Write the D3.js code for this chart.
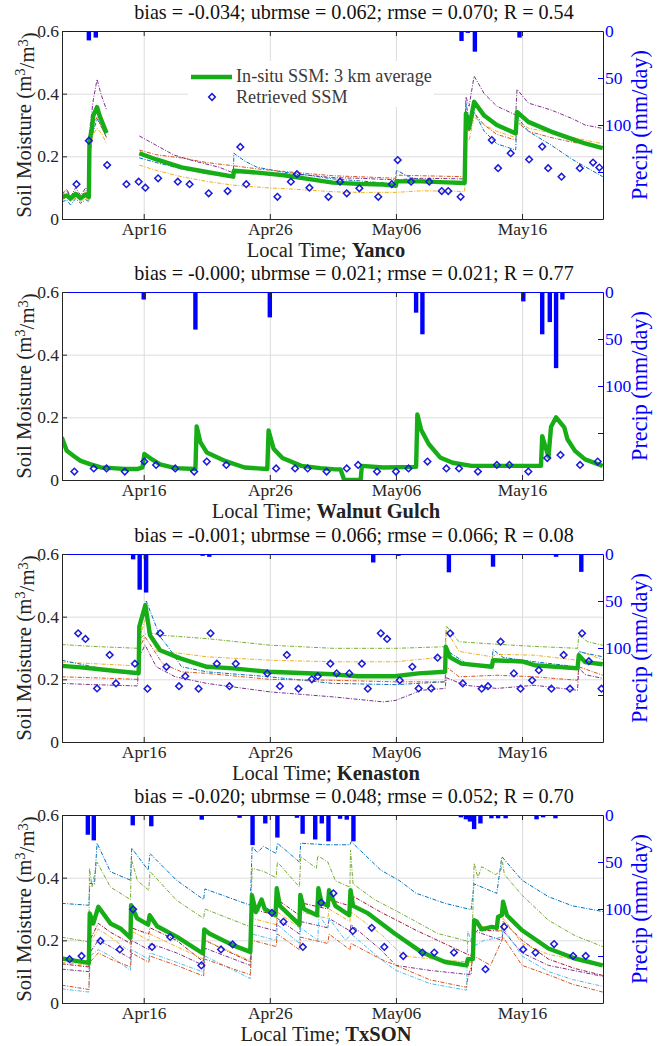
<!DOCTYPE html>
<html>
<head>
<meta charset="utf-8">
<script src="https://cdn.jsdelivr.net/npm/d3@7"></script>
<style>
  body { margin: 0; background: #fff; }
  text { font-family: "Liberation Serif", "DejaVu Serif", serif; }
</style>
</head>
<body>
<div id="chart"></div>
<script>
// ---- data (day numbers: 16 = Apr16, 46 = May16) ----
const dayTicks = [16, 26, 36, 46];
const smTicks = [0, 0.2, 0.4, 0.6];
const precipTicks = [0, 50, 100, 150];
const precipTickLabels = ['0', '50', '100', ''];

const siteNames = ['Yanco', 'Walnut Gulch', 'Kenaston', 'TxSON'];
const statTitles = [
  'bias = -0.034; ubrmse = 0.062; rmse = 0.070; R = 0.54',
  'bias = -0.000; ubrmse = 0.021; rmse = 0.021; R = 0.77',
  'bias = -0.001; ubrmse = 0.066; rmse = 0.066; R = 0.08',
  'bias = -0.020; ubrmse = 0.048; rmse = 0.052; R = 0.70',
];

// Yanco
const yancoInsitu = [[9.5,0.07],[9.9,0.075],[10.2,0.065],[10.6,0.08],[11.0,0.066],[11.4,0.078],[11.65,0.07],[11.7,0.25],[11.9,0.29],[12.0,0.33],[12.3,0.357],[12.5,0.33],[12.8,0.30],[13.05,0.274],[13.5,null],[15.65,0.21],[17,0.19],[19,0.165],[21,0.15],[23.1,0.135],[23.15,0.154],[25,0.148],[27,0.14],[29,0.128],[31,0.116],[33,0.112],[35,0.11],[36,0.106],[36.05,0.12],[38,0.12],[40,0.117],[41.45,0.115],[41.55,0.337],[41.8,0.29],[42.2,0.374],[43,0.33],[44,0.30],[45.5,0.273],[45.6,0.342],[46.5,0.31],[48.3,0.279],[50,0.255],[51,0.241],[52.4,0.226]];
const yancoProbeBlue = [[9.5,0.055],[9.9,0.06],[10.2,0.045],[10.6,0.065],[11.0,0.05],[11.4,0.062],[11.65,0.055],[11.7,0.22],[12.0,0.28],[12.3,0.32],[12.7,0.29],[13.05,0.26],[13.5,null],[15.65,0.195],[17,0.18],[19,0.16],[21,0.145],[23.1,0.132],[23.15,0.21],[24,0.185],[25,0.165],[27,0.15],[29,0.14],[31,0.128],[33,0.122],[35.9,0.112],[36.05,0.156],[37,0.135],[38,0.125],[40,0.115],[41.45,0.11],[41.55,0.37],[41.8,0.32],[42.2,0.342],[43,0.28],[44,0.24],[45.5,0.22],[45.6,0.326],[46.5,0.28],[48.3,0.236],[50,0.19],[51,0.167],[52.4,0.135]];
const yancoProbeRed = [[9.5,0.075],[9.9,0.09],[10.2,0.07],[10.6,0.09],[11.0,0.07],[11.4,0.09],[11.65,0.075],[11.7,0.24],[12.0,0.30],[12.3,0.325],[12.7,0.29],[13.05,0.26],[13.5,null],[15.65,0.22],[17,0.205],[19,0.195],[21,0.18],[23.1,0.17],[25,0.16],[27,0.152],[29,0.145],[31,0.138],[33,0.135],[36,0.13],[36.05,0.14],[38,0.138],[41.45,0.135],[41.55,0.31],[41.8,0.28],[42.2,0.338],[43,0.30],[44,0.27],[45.5,0.252],[45.6,0.31],[46.5,0.28],[48.3,0.26],[50,0.245],[52.4,0.23]];
const yancoProbeYellow = [[9.5,0.06],[9.9,0.07],[10.2,0.055],[10.6,0.07],[11.0,0.055],[11.4,0.068],[11.65,0.06],[11.7,0.2],[12.0,0.27],[12.3,0.29],[12.7,0.27],[13.05,0.24],[13.5,null],[15.65,0.172],[17,0.155],[19,0.135],[21,0.12],[23.1,0.108],[26,0.099],[28,0.095],[31,0.087],[33,0.085],[36,0.085],[38,0.09],[41.45,0.088],[41.55,0.268],[41.8,0.25],[42.2,0.326],[43,0.30],[44,0.28],[45.5,0.26],[45.6,0.31],[46.5,0.29],[48.3,0.275],[50,0.26],[52.4,0.24]];
const yancoProbePurple = [[9.5,0.08],[9.9,0.095],[10.2,0.07],[10.6,0.1],[11.0,0.075],[11.4,0.1],[11.65,0.08],[11.7,0.28],[12.0,0.38],[12.3,0.446],[12.6,0.40],[13.05,0.348],[13.5,null],[15.65,0.265],[17,0.235],[18.4,0.204],[20,0.185],[22,0.165],[23.1,0.147],[25,0.15],[27,0.145],[29,0.14],[31,0.132],[33,0.13],[36,0.125],[38,0.13],[41.45,0.128],[41.55,0.39],[41.8,0.36],[42.2,0.456],[43,0.40],[44,0.36],[45.5,0.332],[45.6,0.414],[46.5,0.37],[48.3,0.348],[50,0.32],[51,0.30],[52.4,0.289]];
const yancoRetrieved = [[10.67,0.111],[11.65,0.25],[13.1,0.172],[14.63,0.111],[15.6,0.119],[16.13,0.1],[17.14,0.13],[18.7,0.119],[19.64,0.111],[21.15,0.082],[22.65,0.089],[23.66,0.23],[24.13,0.111],[26.6,0.071],[27.67,0.119],[28.15,0.143],[29.14,0.1],[30.65,0.071],[31.57,0.119],[32.1,0.082],[33.1,0.098],[34.6,0.071],[35.67,0.111],[36.14,0.188],[37.2,0.119],[38.64,0.119],[39.63,0.089],[40.15,0.089],[41.13,0.071],[43.6,0.252],[44.1,0.162],[45.1,0.21],[46.56,0.19],[47.6,0.231],[48.07,0.162],[49.13,0.135],[50.58,0.162],[51.63,0.18],[52.13,0.164]];
const yancoPrecip = [[11.65,10],[12.2,7],[23.2,1],[35.7,1],[41.2,10.6],[41.7,2],[42.26,22],[45.8,7]];

// Walnut Gulch
const walnutInsitu = [[9.5,0.136],[9.9,0.093],[10.5,0.075],[11,0.061],[11.8,0.05],[12.6,0.04],[13.5,0.038],[14.5,0.035],[15.5,0.035],[15.9,0.04],[16.05,0.083],[16.5,0.07],[17.3,0.05],[18.5,0.038],[20.1,0.035],[20.2,0.171],[20.5,0.12],[21,0.088],[22.5,0.06],[24,0.04],[25.8,0.035],[25.9,0.158],[26.3,0.1],[27,0.07],[28.5,0.045],[30,0.038],[31.2,0.034],[31.6,0.034],[31.9,0],[33.2,0],[33.3,0.045],[35,0.04],[37.6,0.042],[37.7,0.209],[38,0.16],[38.6,0.115],[39.5,0.072],[40.5,0.055],[42,0.045],[45,0.045],[47.5,0.045],[47.6,0.14],[47.9,0.1],[48.1,0.075],[48.3,0.17],[48.7,0.2],[49.35,0.168],[49.6,0.13],[50.2,0.093],[51,0.066],[52.4,0.045]];
const walnutRetrieved = [[10.5,0.027],[12.04,0.037],[13.05,0.037],[14.5,0.027],[16.05,0.059],[16.98,0.048],[18.5,0.037],[20.0,0.027],[21.0,0.059],[22.55,0.048],[26.5,0.037],[28.0,0.037],[29.0,0.037],[30.5,0.027],[32.1,0.037],[33.0,0.048],[34.5,0.027],[36.0,0.027],[37.0,0.037],[38.5,0.059],[40.0,0.037],[41.0,0.037],[42.5,0.027],[44.0,0.048],[45.0,0.048],[46.5,0.027],[48.0,0.07],[49.05,0.08],[50.6,0.048],[52.0,0.059]];
const walnutPrecip = [[16.0,8],[20.1,40],[26.0,27],[37.6,22],[38.1,45],[46.1,10],[47.6,45],[48.2,32],[48.7,81],[49.2,8]];

// Kenaston
const kenastonInsitu = [[9.5,0.243],[11,0.238],[12.5,0.232],[14,0.226],[15.6,0.22],[15.65,0.368],[16.13,0.437],[16.5,0.341],[17.3,0.293],[18.9,0.267],[21,0.24],[23.1,0.235],[25.9,0.224],[31,0.216],[33,0.21],[35.9,0.21],[37.8,0.219],[39.9,0.224],[39.95,0.304],[40.3,0.27],[41.2,0.25],[43.6,0.24],[43.7,0.261],[46,0.257],[47,0.245],[50.4,0.235],[50.5,0.277],[51,0.255],[52.4,0.248]];
const kenastonProbeBlue = [[9.5,0.261],[12,0.24],[15,0.216],[15.6,0.215],[15.7,0.38],[16.2,0.45],[17.3,0.336],[18,0.3],[19,0.24],[21,0.224],[26,0.208],[31,0.187],[36,0.183],[39.9,0.192],[40,0.293],[41.6,0.25],[43.6,0.245],[43.7,0.295],[44.5,0.27],[47,0.256],[50.4,0.24],[50.5,0.288],[52.4,0.272]];
const kenastonProbeRed = [[9.5,0.208],[12,0.205],[15.5,0.2],[15.65,0.3],[16.1,0.336],[17.5,0.25],[19,0.224],[21,0.219],[26,0.2],[31,0.197],[36,0.192],[39.9,0.192],[40,0.24],[41,0.208],[44,0.213],[47,0.208],[50.4,0.197],[50.5,0.24],[52.4,0.213]];
const kenastonProbeYellow = [[9.5,0.255],[12,0.25],[15.5,0.243],[15.65,0.33],[16.2,0.40],[17,0.29],[18.9,0.283],[21,0.272],[26,0.261],[31,0.256],[36,0.256],[39.9,0.272],[40,0.357],[41,0.289],[43.6,0.272],[44,0.28],[47,0.277],[50.4,0.261],[50.5,0.29],[52.4,0.263]];
const kenastonProbePurple = [[9.5,0.187],[12,0.183],[15.5,0.179],[15.65,0.27],[16.1,0.31],[17,0.24],[18.5,0.208],[21,0.187],[26,0.16],[31,0.144],[35,0.128],[36,0.133],[38,0.165],[39.9,0.171],[40,0.205],[41.5,0.181],[44,0.171],[47,0.181],[50.4,0.165],[50.5,0.237],[51,0.215],[52.4,0.203]];
const kenastonProbeGreen = [[9.5,0.311],[12,0.305],[15.6,0.299],[15.7,0.33],[16.3,0.35],[17.3,0.341],[21,0.33],[26,0.309],[31,0.299],[36,0.299],[39.9,0.304],[40,0.37],[41,0.32],[44,0.312],[47,0.305],[50.4,0.299],[50.5,0.341],[51.2,0.32],[52.4,0.309]];
const kenastonRetrieved = [[10.8,0.347],[11.38,0.329],[12.3,0.171],[13.3,0.278],[13.8,0.187],[15.3,0.25],[16.3,0.17],[17.3,0.347],[17.8,0.24],[18.8,0.178],[19.3,0.21],[20.35,0.17],[21.3,0.347],[21.8,0.25],[22.8,0.178],[23.3,0.25],[25.8,0.219],[26.8,0.178],[27.35,0.278],[28.27,0.17],[29.33,0.2],[29.8,0.21],[30.8,0.25],[31.3,0.219],[32.3,0.219],[33.3,0.25],[33.77,0.17],[34.8,0.347],[35.3,0.329],[36.3,0.197],[37.3,0.24],[37.8,0.171],[38.8,0.171],[39.3,0.269],[40.3,0.347],[41.3,0.187],[42.8,0.17],[43.3,0.178],[44.3,0.32],[45.35,0.219],[45.88,0.17],[46.8,0.197],[47.33,0.229],[48.33,0.17],[49.3,0.278],[49.8,0.17],[50.76,0.347],[51.3,0.258],[52.3,0.17]];
const kenastonPrecip = [[15.0,1],[15.16,5.7],[15.68,38],[16.19,41],[20.67,2],[21.2,3],[34.2,9],[36.2,2],[36.6,1],[39.57,1],[40.2,19.5],[43.7,13.5],[44.4,1],[45.8,1],[48.7,3],[50.7,19]];

// TxSON
const txsonInsitu = [[9.5,0.142],[10.5,0.135],[11.65,0.128],[11.72,0.286],[12.0,0.254],[12.4,0.307],[13.36,0.254],[14.15,0.238],[14.95,0.208],[15.0,0.312],[15.48,0.27],[16.35,0.25],[16.47,0.28],[17.06,0.245],[18.64,0.211],[20.7,0.158],[20.8,0.235],[21.2,0.222],[23.1,0.184],[24.45,0.163],[24.58,0.344],[24.9,0.29],[25.35,0.33],[25.6,0.30],[26.45,0.28],[26.55,0.366],[26.8,0.31],[28.35,0.25],[28.42,0.345],[28.7,0.30],[29.75,0.28],[29.85,0.366],[30.1,0.32],[30.6,0.31],[30.7,0.36],[31.2,0.31],[32.3,0.28],[32.4,0.36],[32.6,0.31],[33.8,0.286],[35.9,0.222],[38,0.163],[39.9,0.131],[41.6,0.12],[41.7,0.14],[42.1,0.14],[42.2,0.264],[42.4,0.26],[42.8,0.235],[43.6,0.243],[44.0,0.24],[44.1,0.275],[44.4,0.28],[44.5,0.323],[44.8,0.28],[46,0.232],[48.1,0.174],[50.2,0.142],[52.4,0.12]];
const txsonProbeBlue = [[9.5,0.318],[11.65,0.312],[11.72,0.382],[12.1,0.38],[12.3,0.51],[13.36,0.419],[14.95,0.392],[15.05,0.494],[16.35,0.424],[16.5,0.477],[18.6,0.392],[20.75,0.33],[20.85,0.364],[24.45,0.312],[24.6,0.5],[25.0,0.48],[25.5,0.5],[26.5,0.477],[26.6,0.51],[28.35,0.45],[28.45,0.51],[30.5,0.505],[32.35,0.505],[32.45,0.515],[34.8,0.424],[36.3,0.39],[37.6,0.35],[39.9,0.318],[41.96,0.298],[42.2,0.38],[44.0,0.35],[44.4,0.467],[46.0,0.392],[48.1,0.339],[50,0.31],[52.4,0.292]];
const txsonProbeRed = [[9.5,0.057],[11.65,0.043],[11.72,0.13],[12.4,0.16],[13.36,0.14],[14.95,0.115],[15.02,0.16],[16.4,0.13],[16.5,0.15],[18.6,0.12],[20.75,0.086],[20.85,0.14],[24.45,0.09],[24.6,0.2],[26.5,0.18],[26.6,0.22],[28.35,0.17],[28.45,0.21],[30.6,0.19],[30.7,0.22],[32.35,0.17],[32.45,0.19],[34.8,0.14],[36,0.12],[38.7,0.074],[41.6,0.05],[41.7,0.08],[42.2,0.15],[43.5,0.12],[44.4,0.2],[44.5,0.21],[46,0.12],[48.1,0.09],[50,0.06],[52.4,0.035]];
const txsonProbeYellow = [[9.5,0.13],[11.65,0.12],[11.72,0.19],[12.4,0.236],[13.36,0.21],[14.95,0.163],[15.02,0.23],[16.4,0.2],[16.5,0.22],[18.6,0.18],[20.75,0.14],[20.85,0.2],[24.45,0.135],[24.6,0.27],[26.5,0.25],[26.6,0.29],[28.35,0.24],[28.45,0.29],[30.6,0.27],[30.7,0.30],[32.35,0.26],[32.45,0.29],[34.8,0.22],[36.6,0.15],[39,0.14],[41.96,0.13],[42.2,0.25],[44.4,0.23],[44.5,0.27],[46,0.19],[48.1,0.155],[52.4,0.12]];
const txsonProbePurple = [[9.5,0.108],[11.65,0.10],[11.72,0.16],[12.4,0.2],[13.36,0.18],[14.95,0.142],[15.02,0.2],[16.4,0.17],[16.5,0.19],[18.6,0.16],[20.75,0.12],[20.85,0.175],[24.45,0.12],[24.6,0.25],[26.5,0.23],[26.6,0.27],[28.35,0.22],[28.45,0.26],[30.6,0.24],[30.7,0.27],[32.35,0.23],[32.45,0.25],[34.8,0.17],[36,0.12],[38.7,0.104],[41.96,0.09],[42.2,0.23],[44.4,0.2],[44.5,0.23],[46,0.16],[48.1,0.12],[52.4,0.085]];
const txsonProbeGreen = [[9.5,0.21],[11.65,0.195],[11.7,0.43],[11.9,0.37],[12.3,0.45],[13.36,0.37],[14.95,0.33],[15.02,0.46],[15.5,0.39],[16.4,0.36],[16.5,0.42],[18.6,0.328],[20.75,0.27],[20.85,0.3],[24.45,0.243],[24.6,0.43],[25.5,0.42],[26.5,0.40],[26.6,0.45],[28.35,0.37],[28.45,0.467],[29.7,0.43],[29.8,0.47],[30.6,0.45],[31.2,0.39],[32.35,0.37],[32.4,0.488],[32.6,0.38],[34.3,0.33],[36.4,0.286],[39.3,0.222],[41.9,0.195],[42.05,0.21],[42.2,0.446],[42.5,0.40],[42.8,0.435],[43.9,0.41],[44.3,0.42],[44.45,0.45],[44.6,0.41],[46,0.344],[48.1,0.264],[50.2,0.215],[52.4,0.18]];
const txsonProbeCyan = [[9.5,0.045],[11.65,0.035],[11.75,0.15],[12.4,0.17],[13.36,0.15],[14.95,0.104],[15.05,0.17],[16.4,0.14],[16.5,0.16],[18.6,0.13],[20.75,0.098],[20.85,0.15],[24.45,0.078],[24.6,0.22],[26.5,0.2],[26.6,0.25],[28.35,0.19],[28.45,0.24],[29.8,0.2],[29.9,0.28],[30.6,0.24],[30.7,0.27],[32.0,0.2],[32.45,0.22],[34.8,0.14],[36,0.104],[38.7,0.062],[41.6,0.041],[41.7,0.23],[42.1,0.18],[43,0.2],[44.4,0.21],[44.5,0.24],[46,0.15],[48.1,0.1],[50,0.075],[52.4,0.053]];
const txsonProbeMaroon = [[9.5,0.125],[11.65,0.115],[11.72,0.20],[12.4,0.254],[13.36,0.226],[14.95,0.19],[15.02,0.24],[16.4,0.22],[16.5,0.24],[18.6,0.2],[20.75,0.131],[20.85,0.2],[24.45,0.131],[24.6,0.30],[26.5,0.28],[26.6,0.33],[28.35,0.28],[28.45,0.32],[30.6,0.30],[30.7,0.33],[32.35,0.31],[32.45,0.344],[34.8,0.29],[37.6,0.232],[41.96,0.15],[42.2,0.232],[44.4,0.23],[44.5,0.26],[46,0.2],[48.1,0.14],[50.2,0.11],[52.4,0.088]];
const txsonRetrieved = [[10.12,0.14],[11.07,0.15],[12.57,0.198],[14.1,0.171],[15.16,0.299],[16.66,0.179],[18.1,0.211],[20.57,0.12],[22.13,0.171],[23.05,0.187],[26.17,0.288],[27.08,0.259],[28.62,0.179],[30.07,0.32],[31.04,0.35],[32.58,0.23],[34.08,0.24],[35.08,0.179],[36.58,0.15],[38.1,0.161],[39.04,0.161],[40.6,0.161],[43.1,0.108],[44.58,0.243],[46.09,0.171],[47.07,0.161],[48.54,0.188],[50.05,0.15],[51.05,0.15]];
const txsonPrecip = [[11.57,21],[12.04,27],[15.13,11],[16.6,12],[20.6,5],[22.07,1],[23.6,3],[24.63,32],[25.64,9],[26.6,24],[28.15,3],[28.6,20],[29.6,26],[30.12,9],[30.65,28],[31.57,4],[32.1,5],[32.63,28],[41.15,2.5],[41.55,4.6],[41.87,7],[42.2,15],[42.7,9],[43.57,3.5],[44.1,3.5],[44.7,3.5],[47.15,4.6],[47.67,2.5],[48.65,3.5]];

// probe colours (MATLAB order)
const probeColor = {
  blue: '#0072BD', red: '#D95319', yellow: '#EDB120', purple: '#7E2F8E',
  green: '#77AC30', cyan: '#4DBEEE', maroon: '#A2142F',
};

const sites = [
  { insitu: yancoInsitu, retrieved: yancoRetrieved, precip: yancoPrecip,
    probes: [['blue', yancoProbeBlue], ['red', yancoProbeRed], ['yellow', yancoProbeYellow], ['purple', yancoProbePurple]] },
  { insitu: walnutInsitu, retrieved: walnutRetrieved, precip: walnutPrecip, probes: [] },
  { insitu: kenastonInsitu, retrieved: kenastonRetrieved, precip: kenastonPrecip,
    probes: [['green', kenastonProbeGreen], ['yellow', kenastonProbeYellow], ['blue', kenastonProbeBlue], ['red', kenastonProbeRed], ['purple', kenastonProbePurple]] },
  { insitu: txsonInsitu, retrieved: txsonRetrieved, precip: txsonPrecip,
    probes: [['blue', txsonProbeBlue], ['green', txsonProbeGreen], ['maroon', txsonProbeMaroon], ['yellow', txsonProbeYellow], ['purple', txsonProbePurple], ['cyan', txsonProbeCyan], ['red', txsonProbeRed]] },
];

// ---- layout ----
const W = 670, H = 1046;
const left = 62, right = 603, plotH = 188;
const tops = [31, 292, 554, 815];
const axisColor = '#262626';
const rainBlue = '#0000ff';
const insituGreen = '#17ad17';
const markerBlue = '#1a1adb';

const toDate = (d) => new Date(Date.UTC(2015, 2, 31) + d * 864e5);
const x = d3.scaleUtc().domain([toDate(9.52), toDate(52.42)]).range([left, right]);
const fmt = d3.utcFormat('%b%d');

const svg = d3.select('#chart').append('svg')
  .attr('width', W).attr('height', H)
  .attr('viewBox', `0 0 ${W} ${H}`);

// pick a font size so a sample string gets the width it has in the figure
function sizeFor(str, width) {
  const t = svg.append('text').attr('font-size', 20).text(str);
  const w = t.node().getComputedTextLength();
  t.remove();
  return 20 * width / w;
}
const tickFs = Math.min(17.5, sizeFor('Apr16', 46));
const labelFs = Math.min(20.5, sizeFor('Local Time; Yanco', 180));
const titleFs = sizeFor(statTitles[0], 440);
const legendFs = sizeFor('In-situ SSM: 3 km average', 196);
const precipFs = sizeFor('Precip (mm/day)', 150);
const ylabelFs = sizeFor('Soil Moisture (m3/m3)', 192);

const diamond = d3.symbol().type(d3.symbolSquare).size(22);

sites.forEach((site, i) => {
  const top = tops[i];
  const bottom = top + plotH;
  const y = d3.scaleLinear().domain([0, 0.6]).range([bottom, top]);
  const yP = d3.scaleLinear().domain([0, 200]).range([top, bottom]);
  const g = svg.append('g');

  const clipId = `clip${i}`;
  g.append('clipPath').attr('id', clipId)
    .append('rect').attr('x', left).attr('y', top).attr('width', right - left).attr('height', plotH);

  // grid
  g.append('g')
    .attr('transform', `translate(0,${bottom})`)
    .call(d3.axisBottom(x).tickValues(dayTicks.map(toDate)).tickSize(-plotH).tickFormat(''))
    .call((a) => a.select('.domain').remove())
    .selectAll('line').attr('stroke', '#dcdcdc');
  g.append('g')
    .attr('transform', `translate(${left},0)`)
    .call(d3.axisLeft(y).tickValues([0.2, 0.4]).tickSize(-(right - left)).tickFormat(''))
    .call((a) => a.select('.domain').remove())
    .selectAll('line').attr('stroke', '#dcdcdc');

  const plot = g.append('g').attr('clip-path', `url(#${clipId})`);

  // precipitation bars hanging from the top
  plot.selectAll('rect.rain').data(site.precip).enter().append('rect')
    .attr('class', 'rain')
    .attr('x', (d) => x(toDate(d[0])) - 2.2)
    .attr('width', 4.4)
    .attr('y', top)
    .attr('height', (d) => yP(d[1]) - top)
    .attr('fill', rainBlue);

  const line = d3.line()
    .defined((d) => d[1] !== null)
    .x((d) => x(toDate(d[0])))
    .y((d) => y(d[1]));

  site.probes.forEach(([c, data]) => {
    plot.append('path').datum(data)
      .attr('d', line)
      .attr('fill', 'none')
      .attr('stroke', probeColor[c])
      .attr('stroke-width', 1)
      .attr('stroke-dasharray', '4,1.5,1,1.5');
  });

  plot.append('path').datum(site.insitu)
    .attr('d', line)
    .attr('fill', 'none')
    .attr('stroke', insituGreen)
    .attr('stroke-width', 4.4)
    .attr('stroke-linejoin', 'round');

  plot.selectAll('path.ret').data(site.retrieved).enter().append('path')
    .attr('class', 'ret')
    .attr('d', diamond)
    .attr('transform', (d) => `translate(${x(toDate(d[0]))},${y(d[1])}) rotate(45)`)
    .attr('fill', 'none')
    .attr('stroke', markerBlue)
    .attr('stroke-width', 1.5);

  // axes
  const xAxis = g.append('g')
    .attr('transform', `translate(0,${bottom})`)
    .call(d3.axisBottom(x).tickValues(dayTicks.map(toDate)).tickFormat(fmt).tickSizeInner(-5).tickSizeOuter(0).tickPadding(4));
  g.append('g')
    .attr('transform', `translate(0,${top})`)
    .call(d3.axisTop(x).tickValues(dayTicks.map(toDate)).tickFormat('').tickSizeInner(-5).tickSizeOuter(0))
    .call((a) => a.select('.domain').attr('stroke', rainBlue))
    .selectAll('line').attr('stroke', axisColor);
  const yAxis = g.append('g')
    .attr('transform', `translate(${left},0)`)
    .call(d3.axisLeft(y).tickValues(smTicks).tickFormat((d) => (d === 0 ? '0' : d3.format('.1f')(d))).tickSizeInner(-5).tickSizeOuter(0).tickPadding(3));
  const pAxis = g.append('g')
    .attr('transform', `translate(${right},0)`)
    .call(d3.axisRight(yP).tickValues(precipTicks).tickFormat((d, k) => precipTickLabels[k]).tickSizeInner(-5).tickSizeOuter(0).tickPadding(2));

  [xAxis, yAxis].forEach((a) => {
    a.select('.domain').attr('stroke', axisColor);
    a.selectAll('line').attr('stroke', axisColor);
    a.selectAll('text').attr('fill', axisColor).attr('font-size', tickFs);
  });
  pAxis.select('.domain').attr('stroke', rainBlue);
  pAxis.selectAll('line').attr('stroke', rainBlue);
  pAxis.selectAll('text').attr('fill', rainBlue).attr('font-size', tickFs);

  // titles
  g.append('text')
    .attr('x', 354).attr('y', top - 12)
    .attr('text-anchor', 'middle')
    .attr('font-size', titleFs).attr('fill', '#111')
    .text(statTitles[i]);

  const xl = g.append('text')
    .attr('x', 326).attr('y', bottom + 38)
    .attr('text-anchor', 'middle')
    .attr('font-size', labelFs).attr('fill', '#222');
  xl.append('tspan').text('Local Time; ');
  xl.append('tspan').attr('font-weight', 'bold').text(siteNames[i]);

  const yl = g.append('text')
    .attr('transform', `translate(31,${top + plotH / 2}) rotate(-90)`)
    .attr('text-anchor', 'middle')
    .attr('font-size', ylabelFs).attr('fill', '#222');
  yl.append('tspan').text('Soil Moisture (m');
  yl.append('tspan').attr('font-size', '70%').attr('dy', '-0.4em').text('3');
  yl.append('tspan').attr('dy', '0.4em').text('/m');
  yl.append('tspan').attr('font-size', '70%').attr('dy', '-0.4em').text('3');
  yl.append('tspan').attr('dy', '0.4em').text(')');

  g.append('text')
    .attr('transform', `translate(647,${top + plotH / 2}) rotate(-90)`)
    .attr('text-anchor', 'middle')
    .attr('font-size', precipFs).attr('fill', rainBlue)
    .text('Precip (mm/day)');

  // legend (first panel only)
  if (i === 0) {
    const lg = g.append('g');
    lg.append('rect').attr('x', 188).attr('y', 61).attr('width', 246).attr('height', 46).attr('fill', '#fff');
    lg.append('line').attr('x1', 191).attr('x2', 232).attr('y1', 77).attr('y2', 77)
      .attr('stroke', insituGreen).attr('stroke-width', 4.4);
    lg.append('path').attr('d', diamond)
      .attr('transform', 'translate(212,97) rotate(45)')
      .attr('fill', 'none').attr('stroke', markerBlue).attr('stroke-width', 1.5);
    lg.append('text').attr('x', 236).attr('y', 82).attr('font-size', legendFs).attr('fill', '#3a3a3a')
      .text('In-situ SSM: 3 km average');
    lg.append('text').attr('x', 236).attr('y', 103).attr('font-size', legendFs).attr('fill', '#3a3a3a')
      .text('Retrieved SSM');
  }
});
</script>
</body>
</html>
